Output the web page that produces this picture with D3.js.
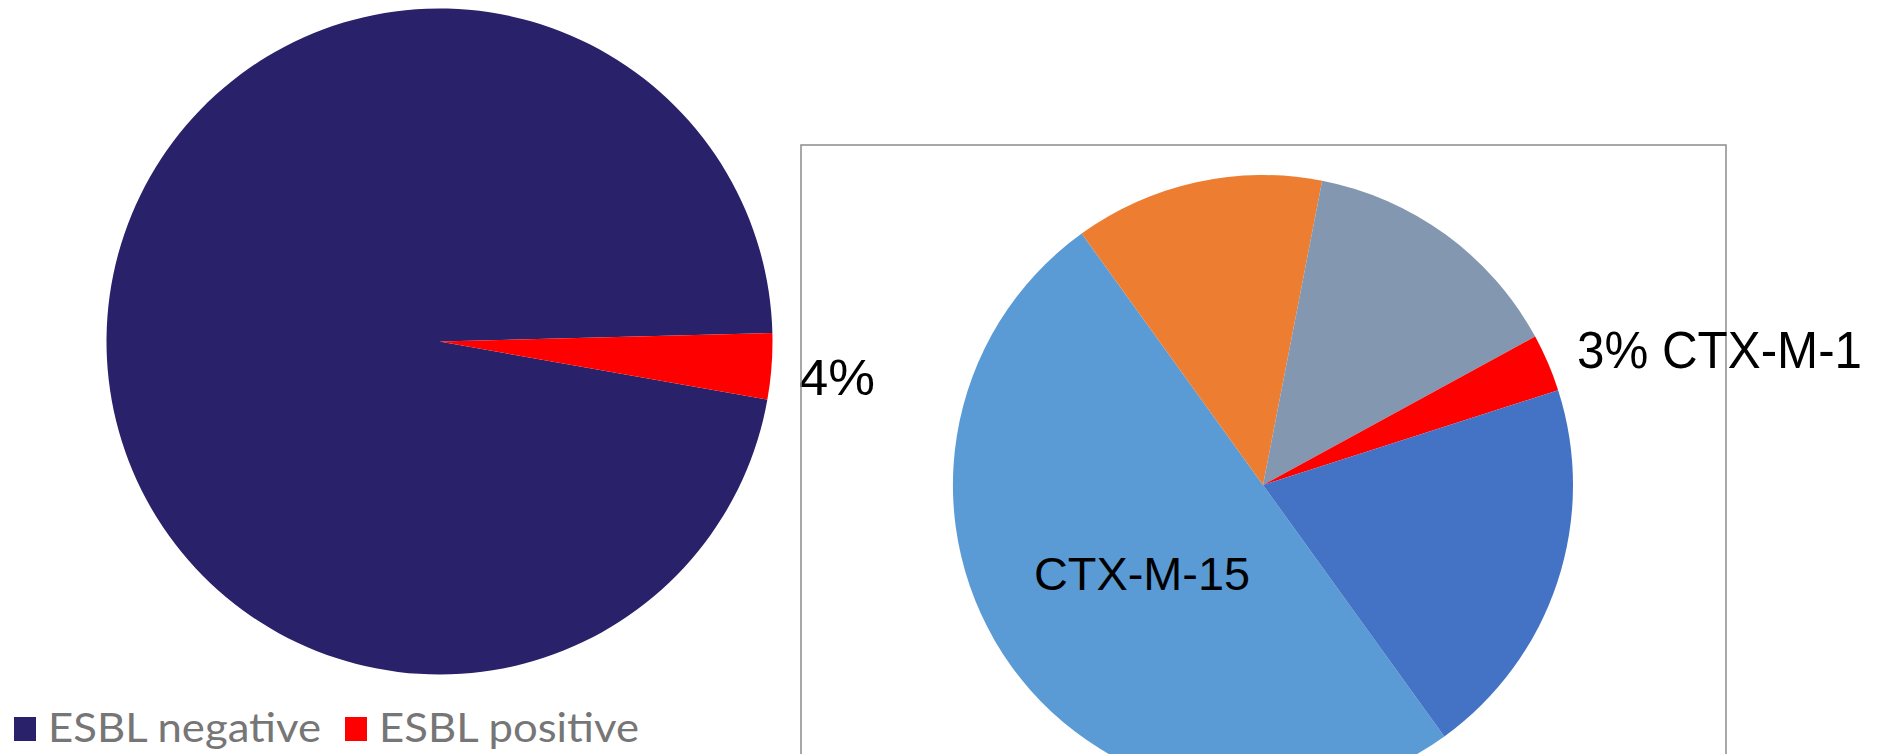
<!DOCTYPE html>
<html>
<head>
<meta charset="utf-8">
<script src="https://cdn.jsdelivr.net/npm/d3@7"></script>
<style>
  html, body { margin: 0; padding: 0; background: #fff; }
  svg { display: block; }
</style>
</head>
<body>
<div id="chart"></div>
<script>
// left pie: ESBL status
var esblCategories = ["ESBL negative", "ESBL positive"];
var esblValues = [96.8, 3.2];
var esblColors = ["#29216a", "#ff0000"];
var esblLabels = ["", "4%"];

// right pie: CTX-M types among positives
var ctxCategories = ["CTX-M-15", "other A", "other B", "CTX-M-1", "other C"];
var ctxValues = [50, 13, 14, 3, 20];
var ctxColors = ["#5b9bd5", "#ed7d31", "#8497b0", "#ff0000", "#4472c4"];

var W = 1883, H = 754;
var rad = function(deg) { return deg * Math.PI / 180; };

var svg = d3.select("#chart").append("svg")
  .attr("width", W)
  .attr("height", H);

// ---- left pie
var leftColor = d3.scaleOrdinal().domain(esblCategories).range(esblColors);
var leftPie = d3.pie().sort(null)
  .startAngle(rad(100.05)).endAngle(rad(100.05) + 2 * Math.PI);
var leftArc = d3.arc().innerRadius(0).outerRadius(333);

var left = svg.append("g").attr("transform", "translate(439.5,341.5)");
left.selectAll("path")
  .data(leftPie(esblValues))
  .enter().append("path")
  .attr("d", leftArc)
  .attr("fill", function(d, i) { return leftColor(esblCategories[i]); });

// percentage label to the right of the small slice
svg.append("text")
  .attr("x", 799)
  .attr("y", 395)
  .attr("font-family", "Liberation Sans, Arial, sans-serif")
  .attr("font-size", 50)
  .attr("textLength", 76)
  .attr("lengthAdjust", "spacingAndGlyphs")
  .attr("fill", "#000")
  .text(esblLabels[1]);

// legend
var legend = svg.append("g").attr("class", "legend");
var legendX = [14, 345];
var legendItem = legend.selectAll("g")
  .data(esblCategories)
  .enter().append("g")
  .attr("transform", function(d, i) { return "translate(" + legendX[i] + ",0)"; });
legendItem.append("rect")
  .attr("x", 0).attr("y", 717)
  .attr("width", 22).attr("height", 24)
  .attr("fill", function(d) { return leftColor(d); });
legendItem.append("text")
  .attr("x", 34).attr("y", 742)
  .attr("font-family", "Lato, 'Open Sans', sans-serif")
  .attr("font-size", 40)
  .attr("fill", "#767676")
  .attr("textLength", function(d, i) { return i === 0 ? 273 : 260; })
  .attr("lengthAdjust", "spacingAndGlyphs")
  .text(function(d) { return d; });

// ---- right chart frame
svg.append("rect")
  .attr("x", 801).attr("y", 145)
  .attr("width", 925).attr("height", 640)
  .attr("fill", "none")
  .attr("stroke", "#8c8c8c")
  .attr("stroke-width", 1.5);

// ---- right pie
var rightColor = d3.scaleOrdinal().domain(ctxCategories).range(ctxColors);
var rightPie = d3.pie().sort(null)
  .startAngle(rad(144.2)).endAngle(rad(144.2) + 2 * Math.PI);
var rightArc = d3.arc().innerRadius(0).outerRadius(310);

var right = svg.append("g").attr("transform", "translate(1263,485)");
right.selectAll("path")
  .data(rightPie(ctxValues))
  .enter().append("path")
  .attr("d", rightArc)
  .attr("fill", function(d, i) { return rightColor(ctxCategories[i]); });

svg.append("text")
  .attr("x", 1034).attr("y", 590)
  .attr("font-family", "Liberation Sans, Arial, sans-serif")
  .attr("font-size", 46)
  .attr("textLength", 216)
  .attr("lengthAdjust", "spacingAndGlyphs")
  .attr("fill", "#000")
  .text(ctxCategories[0]);

svg.append("text")
  .attr("x", 1577).attr("y", 368)
  .attr("font-family", "Liberation Sans, Arial, sans-serif")
  .attr("font-size", 52)
  .attr("textLength", 285)
  .attr("lengthAdjust", "spacingAndGlyphs")
  .attr("fill", "#000")
  .text(Math.round(ctxValues[3]) + "% " + ctxCategories[3]);
</script>
</body>
</html>
